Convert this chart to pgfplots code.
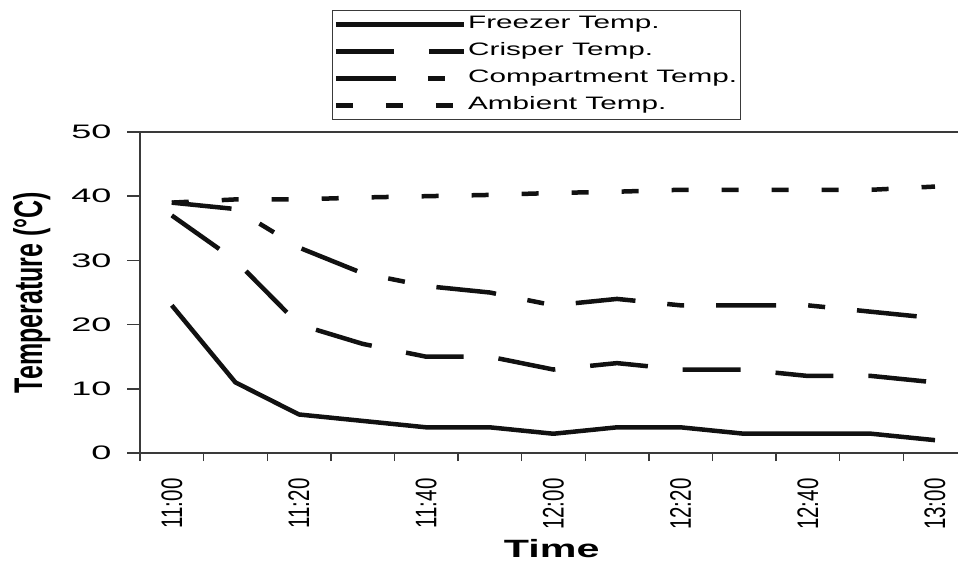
\documentclass[border=0pt]{standalone}
\usepackage{fontspec}
\setmainfont{Liberation Sans}[FakeStretch=1.65]
\newfontfamily\rotfont{Liberation Sans}
\newfontfamily\tickfont{Liberation Sans}[FakeStretch=1.85]
\usepackage{pgfplots}
\usepackage{pgfplotstable}
\pgfplotsset{compat=1.18}
\definecolor{axisgray}{HTML}{3A3A3A}
\definecolor{linecol}{HTML}{111111}

\pgfplotstableread{
idx freezer crisper compartment ambient
0   23  37  39  39
1   11  30  38  39.5
2   6   20  32  39.5
3   5   17  28  39.8
4   4   15  26  40
5   4   15  25  40.2
6   3   13  23  40.5
7   4   14  24  40.7
8   4   13  23  41
9   3   13  23  41
10  3   12  23  41
11  3   12  22  41
12  2   11  21  41.5
}\datatable

\begin{document}
\begin{tikzpicture}
\useasboundingbox (0,0) rectangle (958pt,565pt);
\begin{axis}[
  at={(140pt,112pt)}, anchor=south west,
  scale only axis, width=826.8pt, height=321pt,
  xmin=-0.5, xmax=12.5, ymin=0, ymax=50,
  clip=false,
  axis line style={axisgray, line width=1.4pt},
  tick align=outside,
  xtick pos=left, ytick pos=left,
  major tick length=13pt, minor tick length=8pt,
  every tick/.style={axisgray, line width=1.4pt},
  xtick={0,2,4,6,8,10,12},
  xticklabels={\scalebox{1}[1.45]{11:00},\scalebox{1}[1.45]{11:20},\scalebox{1}[1.45]{11:40},\scalebox{1}[1.45]{12:00},\scalebox{1}[1.45]{12:20},\scalebox{1}[1.45]{12:40},\scalebox{1}[1.45]{13:00}},
  major x tick style={draw=none},
  minor xtick={-0.5,0.5,1.5,2.5,3.5,4.5,5.5,6.5,7.5,8.5,9.5,10.5,11.5},
  minor x tick style={axisgray, line width=1.4pt},
  ytick={0,10,20,30,40,50},
  /pgf/number format/assume math mode=true,
  yticklabel style={font=\tickfont\fontsize{19.5}{20}\selectfont, text=black},
  yticklabel shift=12pt,
  xticklabel style={rotate=90, anchor=east, font=\rotfont\fontsize{20.5}{20}\selectfont, text=black},
  xticklabel shift=9pt,
  xlabel={\bfseries Time},
  xlabel style={at={(axis description cs:0.498,-0.327)}, anchor=base, font=\fontsize{25}{25}\selectfont},
  ylabel={\scalebox{1}[1.6]{\rotfont\bfseries Temperature (°C)}},
  ylabel style={at={(axis description cs:-0.1185,0.5)}, anchor=base, rotate=0, font=\fontsize{25}{25}\selectfont},
  legend image code/.code={\draw[#1] (0pt,0pt) -- (128pt,0pt);},
  legend cell align=left,
  legend style={at={(axis description cs:0.2322,1.380)}, anchor=north west,
    draw=axisgray, line width=1.4pt, font=\fontsize{18}{18}\selectfont,
    inner xsep=1pt, inner ysep=2pt, row sep=3pt,
    nodes={inner sep=2pt, text height=14pt, text depth=6pt}},
  every axis plot/.append style={linecol, line width=4.5pt, line join=round},
]
\addplot[solid] table[x=idx, y=freezer] {\datatable};
\addlegendentry{Freezer Temp.}
\addplot[dash pattern=on 58pt off 35pt] table[x=idx, y=crisper] {\datatable};
\addlegendentry{Crisper Temp.}
\addplot[dash pattern=on 60pt off 32pt on 17pt off 32pt] table[x=idx, y=compartment] {\datatable};
\addlegendentry{Compartment Temp.}
\addplot[dash pattern=on 17pt off 33pt] table[x=idx, y=ambient] {\datatable};
\addlegendentry{Ambient Temp.}
\draw[axisgray, line width=1.5pt] (rel axis cs:0,1) -- (rel axis cs:0.989,1);
\end{axis}
\end{tikzpicture}
\end{document}
